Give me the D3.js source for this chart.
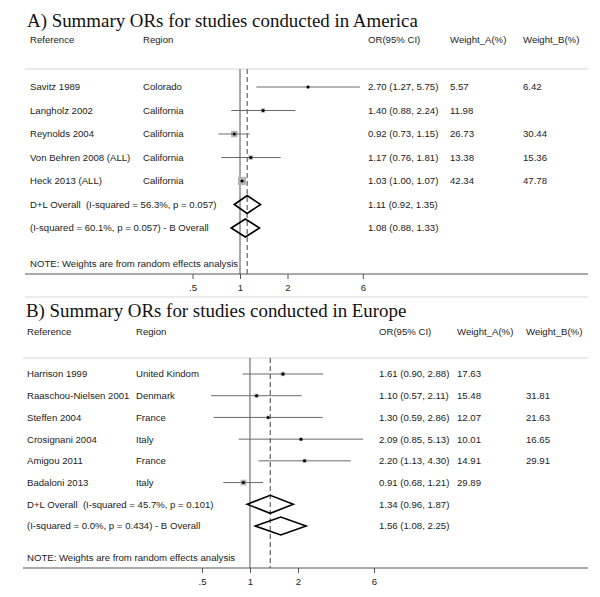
<!DOCTYPE html>
<html>
<head>
<meta charset="utf-8">
<script src="https://cdn.jsdelivr.net/npm/d3@7"></script>
<style>
  body { margin: 0; background: #fff; }
  text { font-family: "Liberation Sans", Arial, sans-serif; font-size: 9.6px; fill: #222; white-space: pre; }
  .title { font-family: "Liberation Serif", "Times New Roman", serif; font-size: 18.9px; fill: #111; }
</style>
</head>
<body>
<svg width="600" height="597"></svg>
<script>
// ---- panel A (America) ----
const refsA = ['Savitz 1989', 'Langholz 2002', 'Reynolds 2004', 'Von Behren 2008 (ALL)', 'Heck 2013 (ALL)']
const regionsA = ['Colorado', 'California', 'California', 'California', 'California']
const orA = [2.70, 1.40, 0.92, 1.17, 1.03]
const loA = [1.27, 0.88, 0.73, 0.76, 1.00]
const hiA = [5.75, 2.24, 1.15, 1.81, 1.07]
const weightA_A = ['5.57', '11.98', '26.73', '13.38', '42.34']
const weightB_A = ['6.42', '', '30.44', '15.36', '47.78']
const overallLabelsA = ['D+L Overall  (I-squared = 56.3%, p = 0.057)', '(I-squared = 60.1%, p = 0.057) - B Overall']
const overallOrA = [1.11, 1.08]
const overallLoA = [0.92, 0.88]
const overallHiA = [1.35, 1.33]

// ---- panel B (Europe) ----
const refsB = ['Harrison 1999', 'Raaschou-Nielsen 2001', 'Steffen 2004', 'Crosignani 2004', 'Amigou 2011', 'Badaloni 2013']
const regionsB = ['United Kindom', 'Denmark', 'France', 'Italy', 'France', 'Italy']
const orB = [1.61, 1.10, 1.30, 2.09, 2.20, 0.91]
const loB = [0.90, 0.57, 0.59, 0.85, 1.13, 0.68]
const hiB = [2.88, 2.11, 2.86, 5.13, 4.30, 1.21]
const weightA_B = ['17.63', '15.48', '12.07', '10.01', '14.91', '29.89']
const weightB_B = ['', '31.81', '21.63', '16.65', '29.91', '']
const overallLabelsB = ['D+L Overall  (I-squared = 45.7%, p = 0.101)', '(I-squared = 0.0%, p = 0.434) - B Overall']
const overallOrB = [1.34, 1.56]
const overallLoB = [0.96, 1.08]
const overallHiB = [1.87, 2.25]

const tickValues = [0.5, 1, 2, 6]
const tickLabels = ['.5', '1', '2', '6']
const headers = ['Reference', 'Region', 'OR(95% CI)', 'Weight_A(%)', 'Weight_B(%)']

const svg = d3.select('svg')
svg.append('rect').attr('width', 600).attr('height', 597).attr('fill', '#fff')

const fmt = d3.format('.2f')

const drawPanel = (p) => {
  const g = svg.append('g')
  const n = p.refs.length + p.overallLabels.length
  const xScale = d3.scaleLog().domain([0.5, 6]).range(p.xRange)
  const yScale = d3.scaleLinear().domain([0, n - 1]).range(p.yRange)

  g.append('text').attr('class', 'title')
    .attr('x', p.titleX).attr('y', p.titleY)
    .text(p.title)

  const cols = [p.colRef, p.colRegion, p.colOr, p.colWA, p.colWB]
  g.selectAll('.hdr').data(headers).enter().append('text')
    .attr('x', (d, i) => cols[i])
    .attr('y', p.headerY)
    .attr('dy', '0.35em')
    .text(d => d)

  // separator and axis lines
  g.append('line').attr('x1', p.lineX[0]).attr('x2', p.lineX[1])
    .attr('y1', p.sepY).attr('y2', p.sepY)
    .attr('stroke', '#d6d6d6').attr('stroke-width', 1)

  const axis = d3.axisBottom(xScale)
    .tickValues(tickValues)
    .tickFormat((d, i) => tickLabels[i])
    .tickSize(5)
    .tickSizeOuter(0)
    .tickPadding(5)
  const ax = g.append('g').attr('transform', 'translate(0,' + p.axisY + ')').call(axis)
  ax.select('.domain').remove()
  ax.selectAll('.tick line').attr('stroke', '#555')
  ax.selectAll('.tick text').style('font-size', '9.6px').attr('fill', '#222')
  g.append('line').attr('x1', p.lineX[0]).attr('x2', p.lineX[1])
    .attr('y1', p.axisY).attr('y2', p.axisY)
    .attr('stroke', '#555').attr('stroke-width', 1)

  // null line and overall line
  g.append('line').attr('x1', xScale(1)).attr('x2', xScale(1))
    .attr('y1', p.sepY).attr('y2', p.axisY)
    .attr('stroke', '#555').attr('stroke-width', 1)
  g.append('line').attr('x1', xScale(p.overallOr[0])).attr('x2', xScale(p.overallOr[0]))
    .attr('y1', p.sepY).attr('y2', p.axisY)
    .attr('stroke', '#555').attr('stroke-width', 1.1)
    .attr('stroke-dasharray', '5,3')

  const studies = p.refs.map((r, i) => ({
    ref: r, region: p.regions[i], or: p.or[i], lo: p.lo[i], hi: p.hi[i],
    wa: p.wA[i], wb: p.wB[i], row: i
  }))

  const rows = g.selectAll('.study').data(studies).enter().append('g')

  rows.append('rect')
    .attr('x', d => xScale(d.or) - p.boxK * Math.sqrt(+d.wa) / 2)
    .attr('y', d => yScale(d.row) - p.boxK * Math.sqrt(+d.wa) / 2)
    .attr('width', d => p.boxK * Math.sqrt(+d.wa))
    .attr('height', d => p.boxK * Math.sqrt(+d.wa))
    .attr('fill', '#b4b4b4')
  rows.append('line')
    .attr('x1', d => xScale(d.lo)).attr('x2', d => xScale(d.hi))
    .attr('y1', d => yScale(d.row)).attr('y2', d => yScale(d.row))
    .attr('stroke', '#6a6a6a').attr('stroke-width', 1)
  rows.append('circle')
    .attr('cx', d => xScale(d.or)).attr('cy', d => yScale(d.row))
    .attr('r', 1.5).attr('fill', '#000')

  rows.append('text').attr('x', p.colRef).attr('y', d => yScale(d.row)).attr('dy', '0.35em').text(d => d.ref)
  rows.append('text').attr('x', p.colRegion).attr('y', d => yScale(d.row)).attr('dy', '0.35em').text(d => d.region)
  rows.append('text').attr('x', p.colOr).attr('y', d => yScale(d.row)).attr('dy', '0.35em')
    .text(d => fmt(d.or) + ' (' + fmt(d.lo) + ', ' + fmt(d.hi) + ')')
  rows.append('text').attr('x', p.colWA).attr('y', d => yScale(d.row)).attr('dy', '0.35em').text(d => d.wa)
  rows.append('text').attr('x', p.colWB).attr('y', d => yScale(d.row)).attr('dy', '0.35em').text(d => d.wb)

  const overall = p.overallLabels.map((l, i) => ({
    label: l, or: p.overallOr[i], lo: p.overallLo[i], hi: p.overallHi[i], row: p.refs.length + i
  }))
  const ov = g.selectAll('.overall').data(overall).enter().append('g')
  ov.append('path')
    .attr('d', d => {
      const y = yScale(d.row), h = p.diamondH
      return 'M' + xScale(d.lo) + ',' + y + 'L' + xScale(d.or) + ',' + (y - h) +
        'L' + xScale(d.hi) + ',' + y + 'L' + xScale(d.or) + ',' + (y + h) + 'Z'
    })
    .attr('fill', 'none').attr('stroke', '#000').attr('stroke-width', 1.6)
  ov.append('text').attr('x', p.colRef).attr('y', d => yScale(d.row)).attr('dy', '0.35em').text(d => d.label)
  ov.append('text').attr('x', p.colOr).attr('y', d => yScale(d.row)).attr('dy', '0.35em')
    .text(d => fmt(d.or) + ' (' + fmt(d.lo) + ', ' + fmt(d.hi) + ')')

  g.append('text').attr('x', p.colRef).attr('y', p.noteY).attr('dy', '0.35em')
    .text('NOTE: Weights are from random effects analysis')
}

drawPanel({
  title: 'A) Summary ORs for studies conducted in America',
  titleX: 27, titleY: 27,
  refs: refsA, regions: regionsA, or: orA, lo: loA, hi: hiA, wA: weightA_A, wB: weightB_A,
  overallLabels: overallLabelsA, overallOr: overallOrA, overallLo: overallLoA, overallHi: overallHiA,
  xRange: [192.5, 362.8], yRange: [87, 228],
  colRef: 30, colRegion: 143, colOr: 368, colWA: 450, colWB: 523,
  headerY: 40, sepY: 69, axisY: 274, noteY: 264, lineX: [25, 588],
  boxK: 1.25, diamondH: 9
})

// faint lower edge of panel A
svg.append('line').attr('x1', 25).attr('x2', 588).attr('y1', 297).attr('y2', 297)
  .attr('stroke', '#ececec').attr('stroke-width', 2)

drawPanel({
  title: 'B) Summary ORs for studies conducted in Europe',
  titleX: 26, titleY: 317,
  refs: refsB, regions: regionsB, or: orB, lo: loB, hi: hiB, wA: weightA_B, wB: weightB_B,
  overallLabels: overallLabelsB, overallOr: overallOrB, overallLo: overallLoB, overallHi: overallHiB,
  xRange: [202, 374], yRange: [374, 526],
  colRef: 27, colRegion: 136, colOr: 379, colWA: 457, colWB: 526,
  headerY: 332, sepY: 358, axisY: 568, noteY: 558, lineX: [23, 588],
  boxK: 1.05, diamondH: 9
})
</script>
</body>
</html>
